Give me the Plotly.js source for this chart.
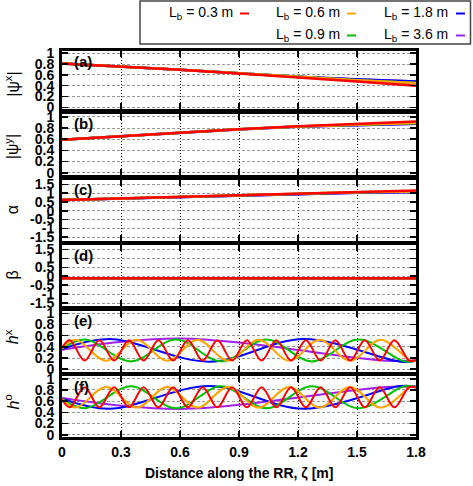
<!DOCTYPE html>
<html>
<head>
<meta charset="utf-8">
<script src="https://cdn.plot.ly/plotly-3.0.1.min.js"></script>
<style>html,body{margin:0;padding:0;background:#fff}#plot{width:473px;height:486px}</style>
</head>
<body>
<div id="plot"></div>
<script>
// ---------------- data ----------------
const beatLengths = [0.3, 0.6, 0.9, 1.8, 3.6];
const seriesLabels = ['L<sub>b</sub> = 0.3 m', 'L<sub>b</sub> = 0.6 m', 'L<sub>b</sub> = 0.9 m', 'L<sub>b</sub> = 1.8 m', 'L<sub>b</sub> = 3.6 m'];
const xTickVals = [0, 0.3, 0.6, 0.9, 1.2, 1.5, 1.8];
const xTickText = ['0', '0.3', '0.6', '0.9', '1.2', '1.5', '1.8'];
const yTickVals01 = [0, 0.2, 0.4, 0.6, 0.8, 1];
const yTickText01 = ['0', '0.2', '0.4', '0.6', '0.8', '1'];
const yTickValsAng = [-1.5, -1, -0.5, 0, 0.5, 1, 1.5];
const yTickTextAng = ['-1.5', '-1', '-0.5', '0', '0.5', '1', '1.5'];

// slowly varying quantities, sampled at zeta
const zeta = [0, 0.3, 0.6, 0.9, 1.2, 1.5, 1.8];
// |psi^x|
const psiX_03 = [0.81, 0.755, 0.695, 0.627, 0.556, 0.48, 0.40];
const psiX_06 = [0.81, 0.755, 0.695, 0.628, 0.56, 0.50, 0.45];
const psiX_09 = [0.81, 0.755, 0.695, 0.628, 0.56, 0.50, 0.45];
const psiX_18 = [0.81, 0.755, 0.695, 0.629, 0.565, 0.515, 0.48];
const psiX_36 = [0.81, 0.755, 0.695, 0.63, 0.566, 0.52, 0.48];
// |psi^y|
const psiY_03 = [0.59, 0.655, 0.72, 0.779, 0.831, 0.877, 0.916];
const psiY_06 = [0.59, 0.655, 0.72, 0.778, 0.829, 0.866, 0.89];
const psiY_09 = [0.59, 0.655, 0.72, 0.778, 0.829, 0.866, 0.89];
const psiY_18 = [0.59, 0.655, 0.72, 0.777, 0.826, 0.858, 0.877];
const psiY_36 = [0.59, 0.655, 0.72, 0.776, 0.825, 0.855, 0.877];
// alpha
const alpha_03 = [0.62, 0.71, 0.80, 0.89, 0.98, 1.07, 1.16];
const alpha_06 = [0.62, 0.71, 0.80, 0.89, 0.975, 1.05, 1.10];
const alpha_09 = [0.62, 0.71, 0.80, 0.89, 0.975, 1.05, 1.10];
const alpha_18 = [0.62, 0.71, 0.80, 0.885, 0.97, 1.03, 1.07];
const alpha_36 = [0.62, 0.71, 0.80, 0.885, 0.97, 1.03, 1.07];
// beta
const beta_03 = [-0.12, -0.12, -0.12, -0.12, -0.12, -0.12, -0.12];
const beta_06 = [-0.12, -0.12, -0.12, -0.12, -0.12, -0.12, -0.12];
const beta_09 = [-0.12, -0.12, -0.12, -0.12, -0.12, -0.12, -0.12];
const beta_18 = [-0.13, -0.13, -0.13, -0.13, -0.13, -0.13, -0.13];
const beta_36 = [-0.13, -0.13, -0.13, -0.13, -0.13, -0.13, -0.13];

// oscillating quantities, sampled at start, extrema and end
const zH_03 = [0, 0.04, 0.115, 0.19, 0.265, 0.34, 0.415, 0.49, 0.565, 0.64, 0.715, 0.79, 0.865, 0.94, 1.015, 1.09, 1.165, 1.24, 1.315, 1.39, 1.465, 1.54, 1.615, 1.69, 1.765, 1.8];
const hX_03 = [0.38, 0.52, 0.155, 0.52, 0.155, 0.52, 0.155, 0.52, 0.155, 0.52, 0.155, 0.52, 0.155, 0.52, 0.155, 0.52, 0.155, 0.52, 0.155, 0.52, 0.155, 0.52, 0.155, 0.52, 0.155, 0.165];
const hY_03 = [0.63, 0.49, 0.85, 0.49, 0.85, 0.49, 0.85, 0.49, 0.85, 0.49, 0.85, 0.49, 0.85, 0.49, 0.85, 0.49, 0.85, 0.49, 0.85, 0.49, 0.85, 0.49, 0.85, 0.49, 0.85, 0.845];
const zH_06 = [0, 0.07, 0.225, 0.38, 0.535, 0.69, 0.845, 1.0, 1.155, 1.31, 1.465, 1.62, 1.775, 1.8];
const hX_06 = [0.37, 0.525, 0.15, 0.525, 0.15, 0.525, 0.15, 0.525, 0.15, 0.525, 0.15, 0.525, 0.15, 0.155];
const hY_06 = [0.64, 0.485, 0.855, 0.485, 0.855, 0.485, 0.855, 0.485, 0.855, 0.485, 0.855, 0.485, 0.855, 0.85];
const zH_09 = [0, 0.12, 0.35, 0.58, 0.81, 1.04, 1.27, 1.51, 1.74, 1.8];
const hX_09 = [0.37, 0.53, 0.14, 0.53, 0.14, 0.53, 0.14, 0.53, 0.14, 0.15];
const hY_09 = [0.64, 0.475, 0.865, 0.475, 0.865, 0.475, 0.865, 0.475, 0.865, 0.855];
const zH_18 = [0, 0.24, 0.75, 1.23, 1.72, 1.8];
const hX_18 = [0.36, 0.54, 0.135, 0.54, 0.135, 0.145];
const hY_18 = [0.645, 0.465, 0.87, 0.465, 0.87, 0.86];
const zH_36 = [0, 0.6, 1.65, 1.8];
const hX_36 = [0.35, 0.55, 0.15, 0.16];
const hY_36 = [0.655, 0.46, 0.855, 0.85];

// ---------------- style ----------------
const colors = ['#ff0000', '#ffa500', '#00c000', '#0000ff', '#a020f0'];
const FONT = 'Liberation Sans, Arial, Helvetica, sans-serif';
const W = 473, Hfig = 486;
const M = {l: 62, r: 57, t: 51, b: 49};
const plotW = W - M.l - M.r, plotH = Hfig - M.t - M.b;
const panelTopPx = [51, 113.5, 179.5, 245, 310.5, 376];
const panelBotPx = [108.5, 175, 241, 306, 372, 437];
const panelRanges = [[-0.02, 1.04], [-0.04, 1.06], [-1.72, 1.78], [-1.66, 1.74], [-0.05, 1.05], [-0.04, 1.05]];

const panels = [
  {label: '(a)', title: '|ψ<sup>x</sup>|', dy: 5, x: [zeta, zeta, zeta, zeta, zeta], y: [psiX_03, psiX_06, psiX_09, psiX_18, psiX_36], ang: false, shape: 'linear', w: 2.5},
  {label: '(b)', title: '|ψ<sup>y</sup>|', dy: 3, x: [zeta, zeta, zeta, zeta, zeta], y: [psiY_03, psiY_06, psiY_09, psiY_18, psiY_36], ang: false, shape: 'linear', w: 2.5},
  {label: '(c)', title: 'α', dy: 0, x: [zeta, zeta, zeta, zeta, zeta], y: [alpha_03, alpha_06, alpha_09, alpha_18, alpha_36], ang: true, shape: 'linear', w: 2.5},
  {label: '(d)', title: 'β', dy: 0, x: [zeta, zeta, zeta, zeta, zeta], y: [beta_03, beta_06, beta_09, beta_18, beta_36], ang: true, shape: 'linear', w: 2.5},
  {label: '(e)', title: '<i>h</i><sup>x</sup>', dy: -4, x: [zH_03, zH_06, zH_09, zH_18, zH_36], y: [hX_03, hX_06, hX_09, hX_18, hX_36], ang: false, shape: 'spline', w: 2},
  {label: '(f)', title: '<i>h</i><sup>o</sup>', dy: -4, x: [zH_03, zH_06, zH_09, zH_18, zH_36], y: [hY_03, hY_06, hY_09, hY_18, hY_36], ang: false, shape: 'spline', w: 2}
];

const traces = [];
const layout = {
  width: W, height: Hfig, margin: M,
  paper_bgcolor: '#fff', plot_bgcolor: '#fff',
  showlegend: false,
  font: {family: FONT, size: 14, color: '#000'},
  annotations: [], shapes: []
};

const px2x = px => (px - M.l) / plotW;
const py2y = py => (Hfig - M.b - py) / plotH;

const drawOrder = [4, 3, 2, 1, 0];
panels.forEach((p, i) => {
  const n = i + 1;
  const xa = 'x' + (n > 1 ? n : '');
  const ya = 'y' + (n > 1 ? n : '');
  drawOrder.forEach(s => {
    traces.push({
      type: 'scatter', mode: 'lines', x: p.x[s], y: p.y[s],
      xaxis: xa, yaxis: ya, name: seriesLabels[s],
      line: {color: colors[s], width: p.w, shape: p.shape, smoothing: 1},
      hoverinfo: 'skip'
    });
  });
  const top = py2y(panelTopPx[i]);
  const bot = py2y(panelBotPx[i]);
  const hPx = panelBotPx[i] - panelTopPx[i];
  const isLast = (n === 6);
  layout['xaxis' + (n > 1 ? n : '')] = {
    anchor: ya, domain: [0, 1], range: [0, 1.8],
    matches: n > 1 ? 'x' : undefined,
    tickvals: xTickVals, ticktext: xTickText,
    showticklabels: isLast,
    tickfont: {family: FONT, size: 14, weight: 'bold'},
    ticks: 'inside', ticklen: 6, tickwidth: 1.5, tickcolor: '#000',
    showline: true, linewidth: 3, linecolor: '#000', mirror: 'allticks',
    showgrid: true, gridcolor: '#000', gridwidth: 1, griddash: '1px,2px',
    zeroline: false
  };
  layout['yaxis' + (n > 1 ? n : '')] = {
    anchor: xa, domain: [bot, top],
    range: panelRanges[i],
    tickvals: p.ang ? yTickValsAng : yTickVals01,
    ticktext: p.ang ? yTickTextAng : yTickText01,
    tickfont: {family: FONT, size: 14, weight: 'bold'},
    ticks: 'inside', ticklen: 6, tickwidth: 1.5, tickcolor: '#000',
    ticklabelstandoff: 2,
    showline: true, linewidth: 3, linecolor: '#000', mirror: 'allticks',
    showgrid: true, gridcolor: '#999', gridwidth: 1, griddash: '3px,2px',
    zeroline: false
  };
  // panel tag
  layout.annotations.push({
    text: '<b>' + p.label + '</b>', xref: 'paper', yref: ya + ' domain',
    x: 10 / plotW, y: 1 - 10 / hPx, xanchor: 'left', yanchor: 'middle',
    showarrow: false, font: {family: FONT, size: 15, color: '#000'}
  });
  // y-axis title (rotated)
  layout.annotations.push({
    text: p.title, xref: 'paper', yref: ya + ' domain',
    x: px2x(12), y: 0.5 - p.dy / hPx, xanchor: 'center', yanchor: 'middle',
    textangle: -90, showarrow: false, font: {family: FONT, size: 16, color: '#000'}
  });
});

// x-axis title
layout.annotations.push({
  text: '<b>Distance along the RR, ζ [m]</b>', xref: 'paper', yref: 'paper',
  x: 0.5, y: py2y(473), xanchor: 'center', yanchor: 'middle',
  showarrow: false, font: {family: FONT, size: 14, color: '#000'}
});

// custom key box (text left of line sample, gnuplot style)
layout.shapes.push({type: 'rect', xref: 'paper', yref: 'paper',
  x0: px2x(140), x1: px2x(470.5), y0: py2y(44), y1: py2y(1),
  line: {color: '#444', width: 1.5}, fillcolor: 'rgba(0,0,0,0)'});
const keyCol = [0, 1, 1, 2, 2];
const keyRow = [0, 0, 1, 0, 1];
const keyTextRight = [235, 342, 450];
const keyLine = [[240, 249], [347, 356], [456, 465]];
const keyRowY = [12.5, 34.5];
for (let s = 0; s < 5; s++) {
  const c = keyCol[s], r = keyRow[s];
  layout.annotations.push({
    text: seriesLabels[s], xref: 'paper', yref: 'paper',
    x: px2x(keyTextRight[c]), y: py2y(keyRowY[r]), xanchor: 'right', yanchor: 'middle',
    showarrow: false, font: {family: FONT, size: 14, color: '#000'}
  });
  layout.shapes.push({type: 'line', xref: 'paper', yref: 'paper',
    x0: px2x(keyLine[c][0]), x1: px2x(keyLine[c][1]), y0: py2y(keyRowY[r] + 1), y1: py2y(keyRowY[r] + 1),
    line: {color: colors[s], width: 2}});
}

Plotly.newPlot('plot', traces, layout, {staticPlot: true, displayModeBar: false});
</script>
</body>
</html>
